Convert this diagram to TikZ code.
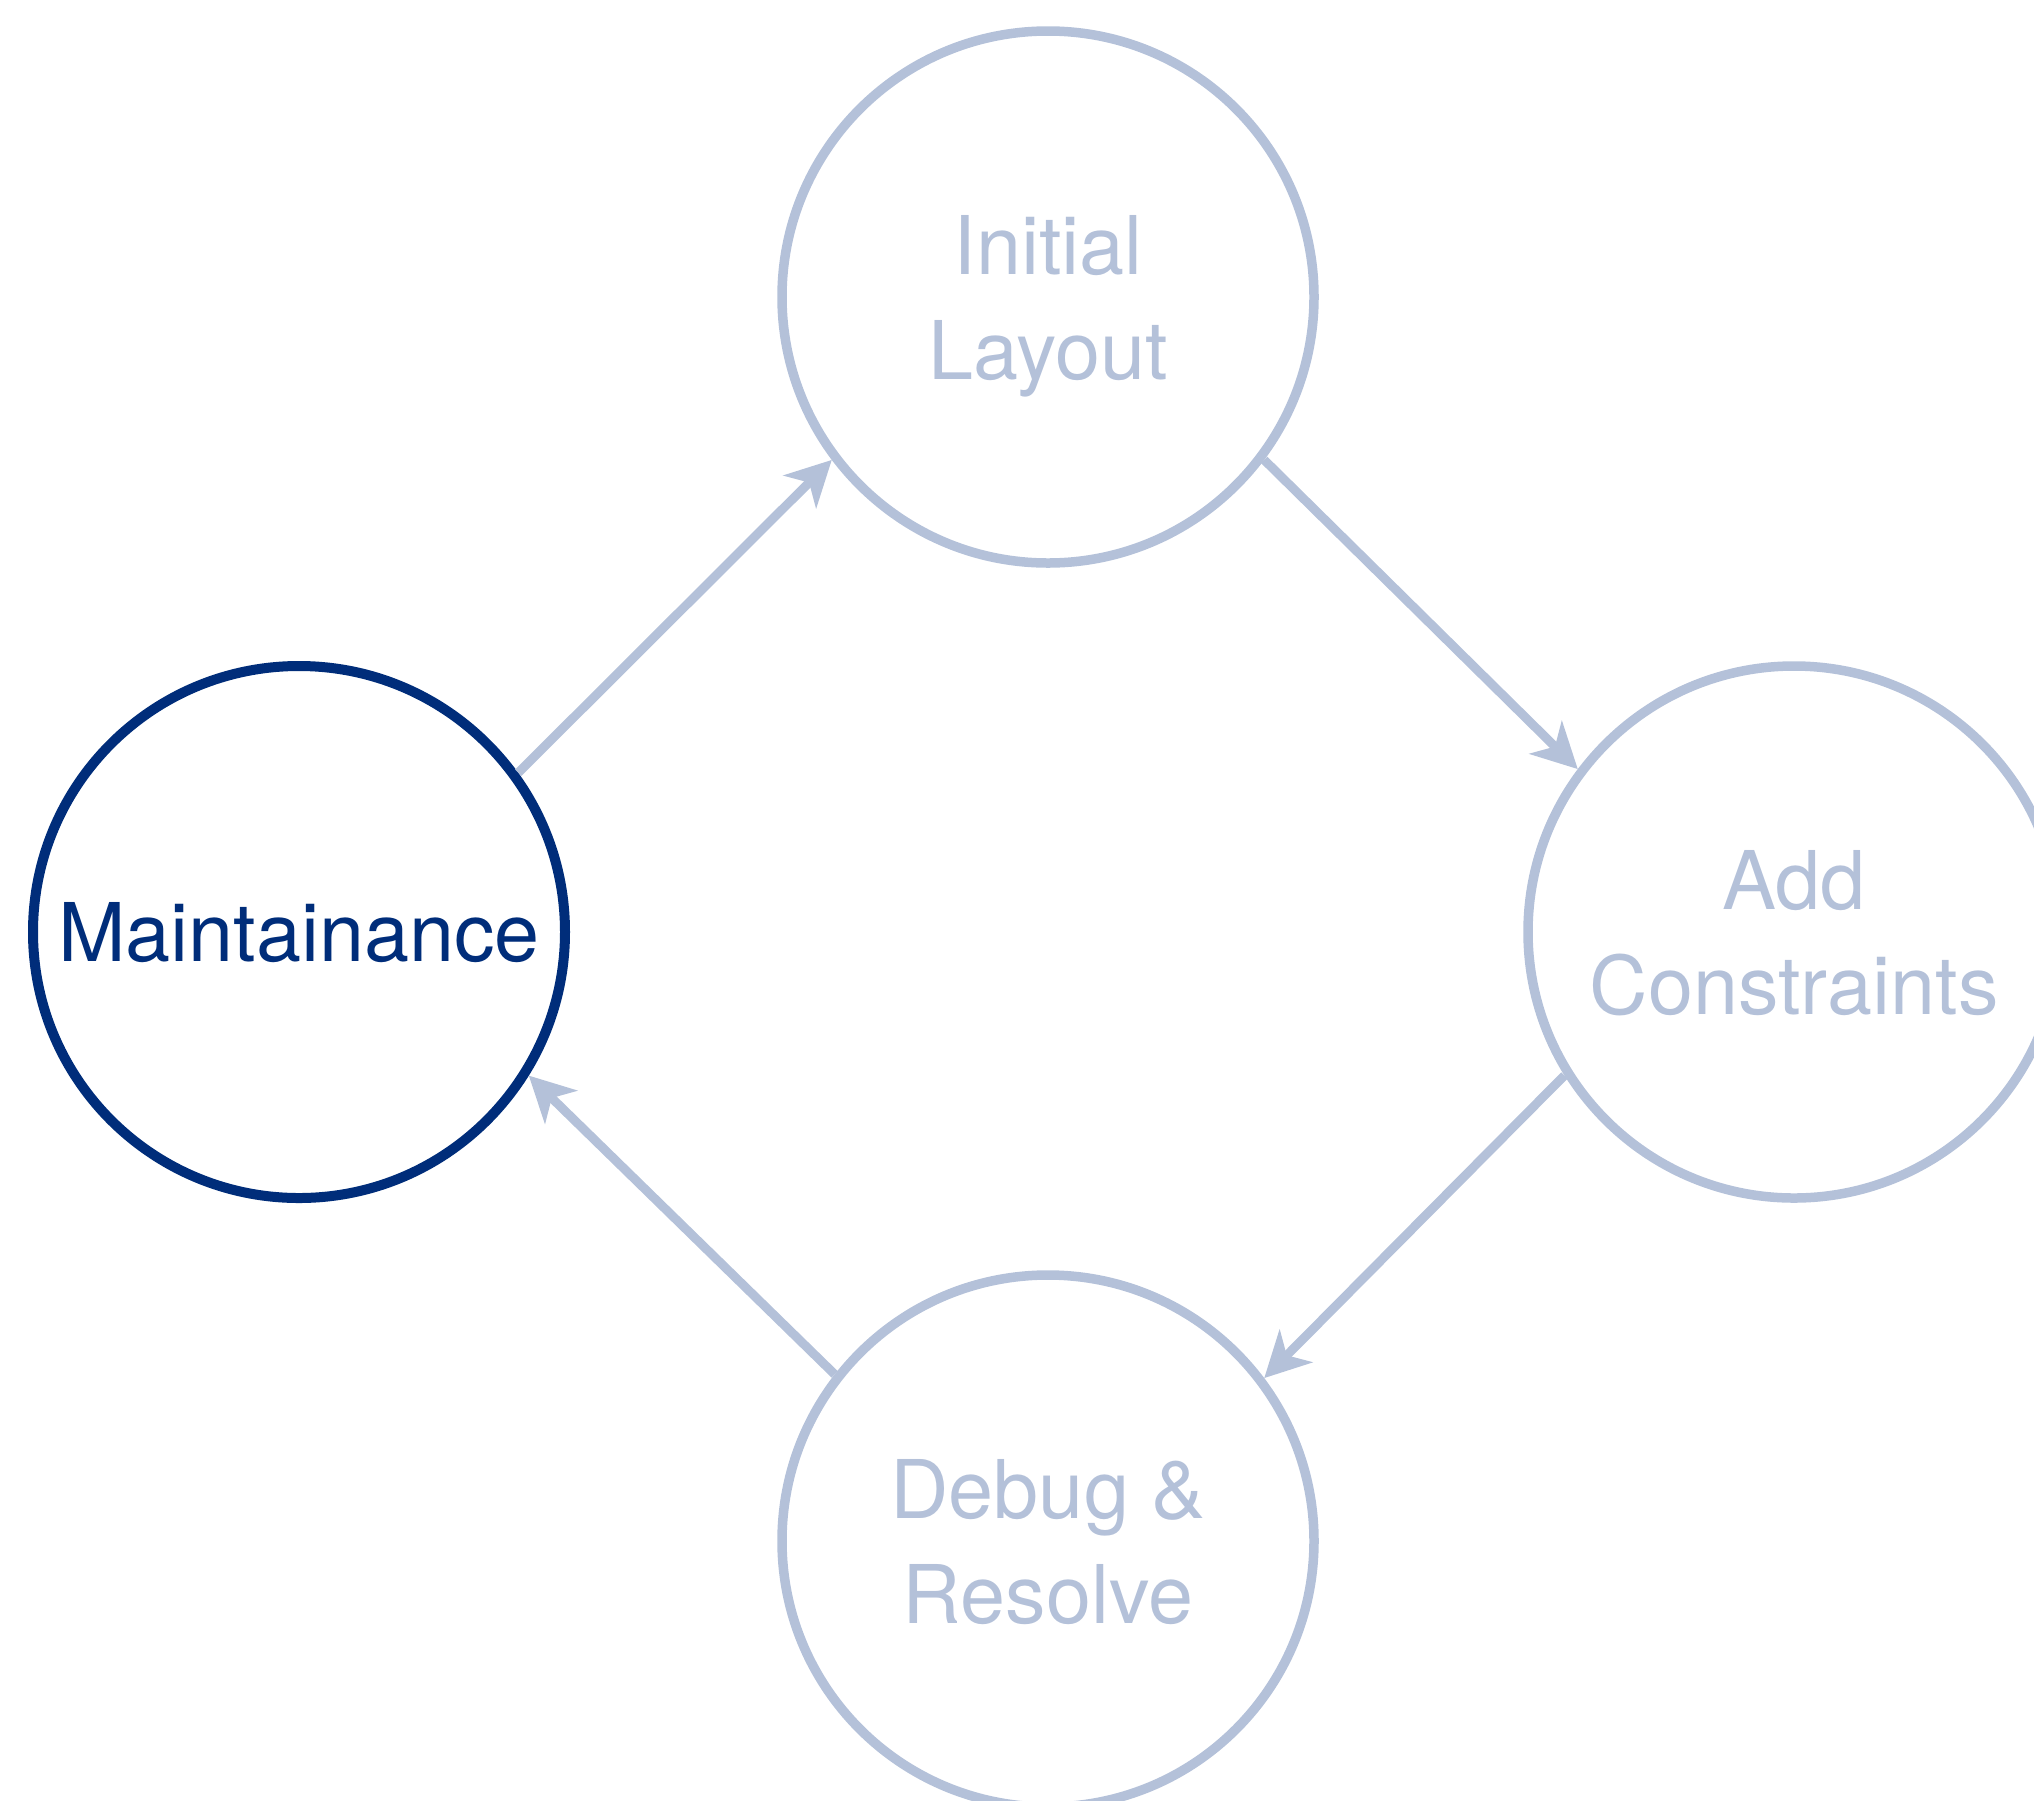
\documentclass[tikz,border=0pt]{standalone}
\usepackage{fontspec}
\setmainfont{TeX Gyre Heros}
\usetikzlibrary{arrows.meta}
\definecolor{darkblue}{HTML}{002D7A}
\definecolor{lightblue}{HTML}{B4C1D9}
\tikzset{
  stage/.style={circle, draw=lightblue, line width=9.5pt, minimum size=532pt, inner sep=0pt,
    text=lightblue, align=center, text depth=0pt,
    font=\fontsize{81}{105}\selectfont},
  active/.style={stage, draw=darkblue, text=darkblue, line width=10pt},
  flow/.style={draw=lightblue, line width=9pt,
    -{Stealth[length=45pt, width=46pt, inset=13pt]}}
}
\begin{document}
\begin{tikzpicture}[x=1pt, y=-1pt]
\useasboundingbox (0,0) rectangle (2034,1800);
\clip (0,0) rectangle (2034,1800);
\node[stage] (i) at (1048,297) {Initial\\Layout};
\node[active] (m) at (299,932) {Maintainance};
\node[stage] (a) at (1794,932) {Add\\Constraints};
\node[stage] (d) at (1048,1541) {Debug \&\\Resolve};
\draw[flow] (m.36) -- (i.217);
\draw[flow] (i.-37) -- (a.143);
\draw[flow] (a.212) -- (d.37);
\draw[flow] (d.142) -- (m.-32);
\end{tikzpicture}
\end{document}
